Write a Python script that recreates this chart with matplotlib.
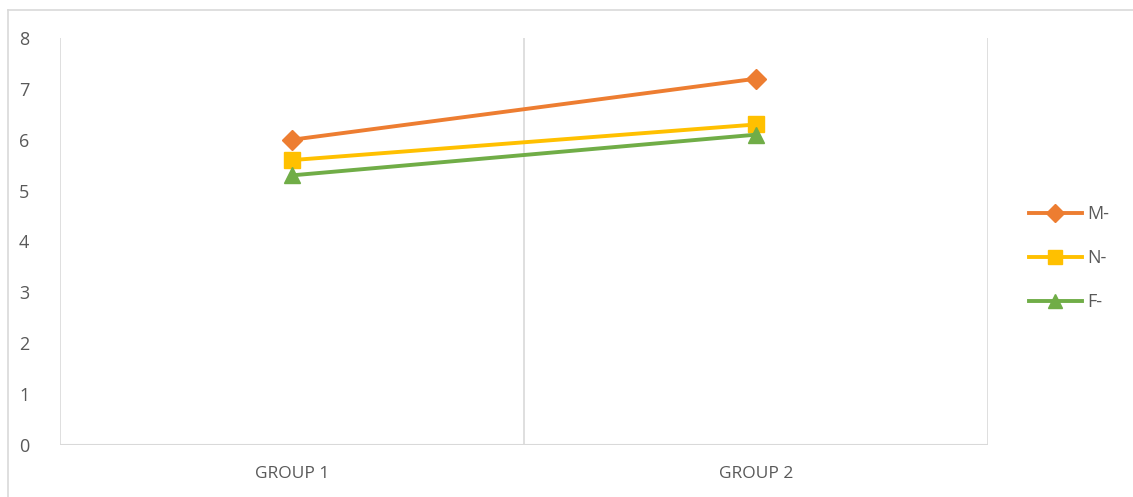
import matplotlib.pyplot as plt
from matplotlib.lines import Line2D

groups = ["GROUP 1", "GROUP 2"]
m_vals = [6.0, 7.2]
n_vals = [5.6, 6.3]
f_vals = [5.3, 6.1]

grid_col = "#D9D9D9"
text_col = "#595959"

plt.rcParams['font.family'] = ['Open Sans', 'DejaVu Sans']

fig = plt.figure(figsize=(11.33, 4.97), dpi=100)
ax = fig.add_axes([60 / 1133, 1 - 445 / 497, 928 / 1133, 407 / 497])

x = [0.5, 1.5]
ax.plot(x, m_vals, color="#ED7D31", lw=2.8, marker="D", ms=10, label="M-")
ax.plot(x, n_vals, color="#FFC000", lw=2.8, marker="s", ms=11, label="N-")
ax.plot(x, f_vals, color="#70AD47", lw=2.8, marker="^", ms=11, label="F-")

ax.set_xlim(0, 2)
ax.set_ylim(0, 8)
ax.set_yticks(range(0, 9))
ax.set_xticks(x)
ax.set_xticklabels(groups)
for v in [0, 1, 2]:
    ax.axvline(v, color=grid_col, lw=1.2, zorder=0)
for s in ax.spines.values():
    s.set_visible(False)
ax.axhline(0, color=grid_col, lw=1.5, zorder=0)
ax.tick_params(axis="both", length=0, colors=text_col)
ax.tick_params(axis="y", labelsize=13, pad=22)
ax.tick_params(axis="x", labelsize=12.5, pad=15)

fig.legend(loc="center left", bbox_to_anchor=(1013 / 1133, 1 - 258 / 497),
           frameon=False, fontsize=13, labelcolor=text_col, handlelength=2.9,
           labelspacing=1.45, handletextpad=0.3, markerscale=0.9)

fig.add_artist(Line2D([8 / 1133, 8 / 1133], [0, 1 - 10 / 497], color=grid_col, lw=1.2))
fig.add_artist(Line2D([8 / 1133, 1], [1 - 10 / 497, 1 - 10 / 497], color=grid_col, lw=1.2))

fig.savefig("out.png", dpi=100)
